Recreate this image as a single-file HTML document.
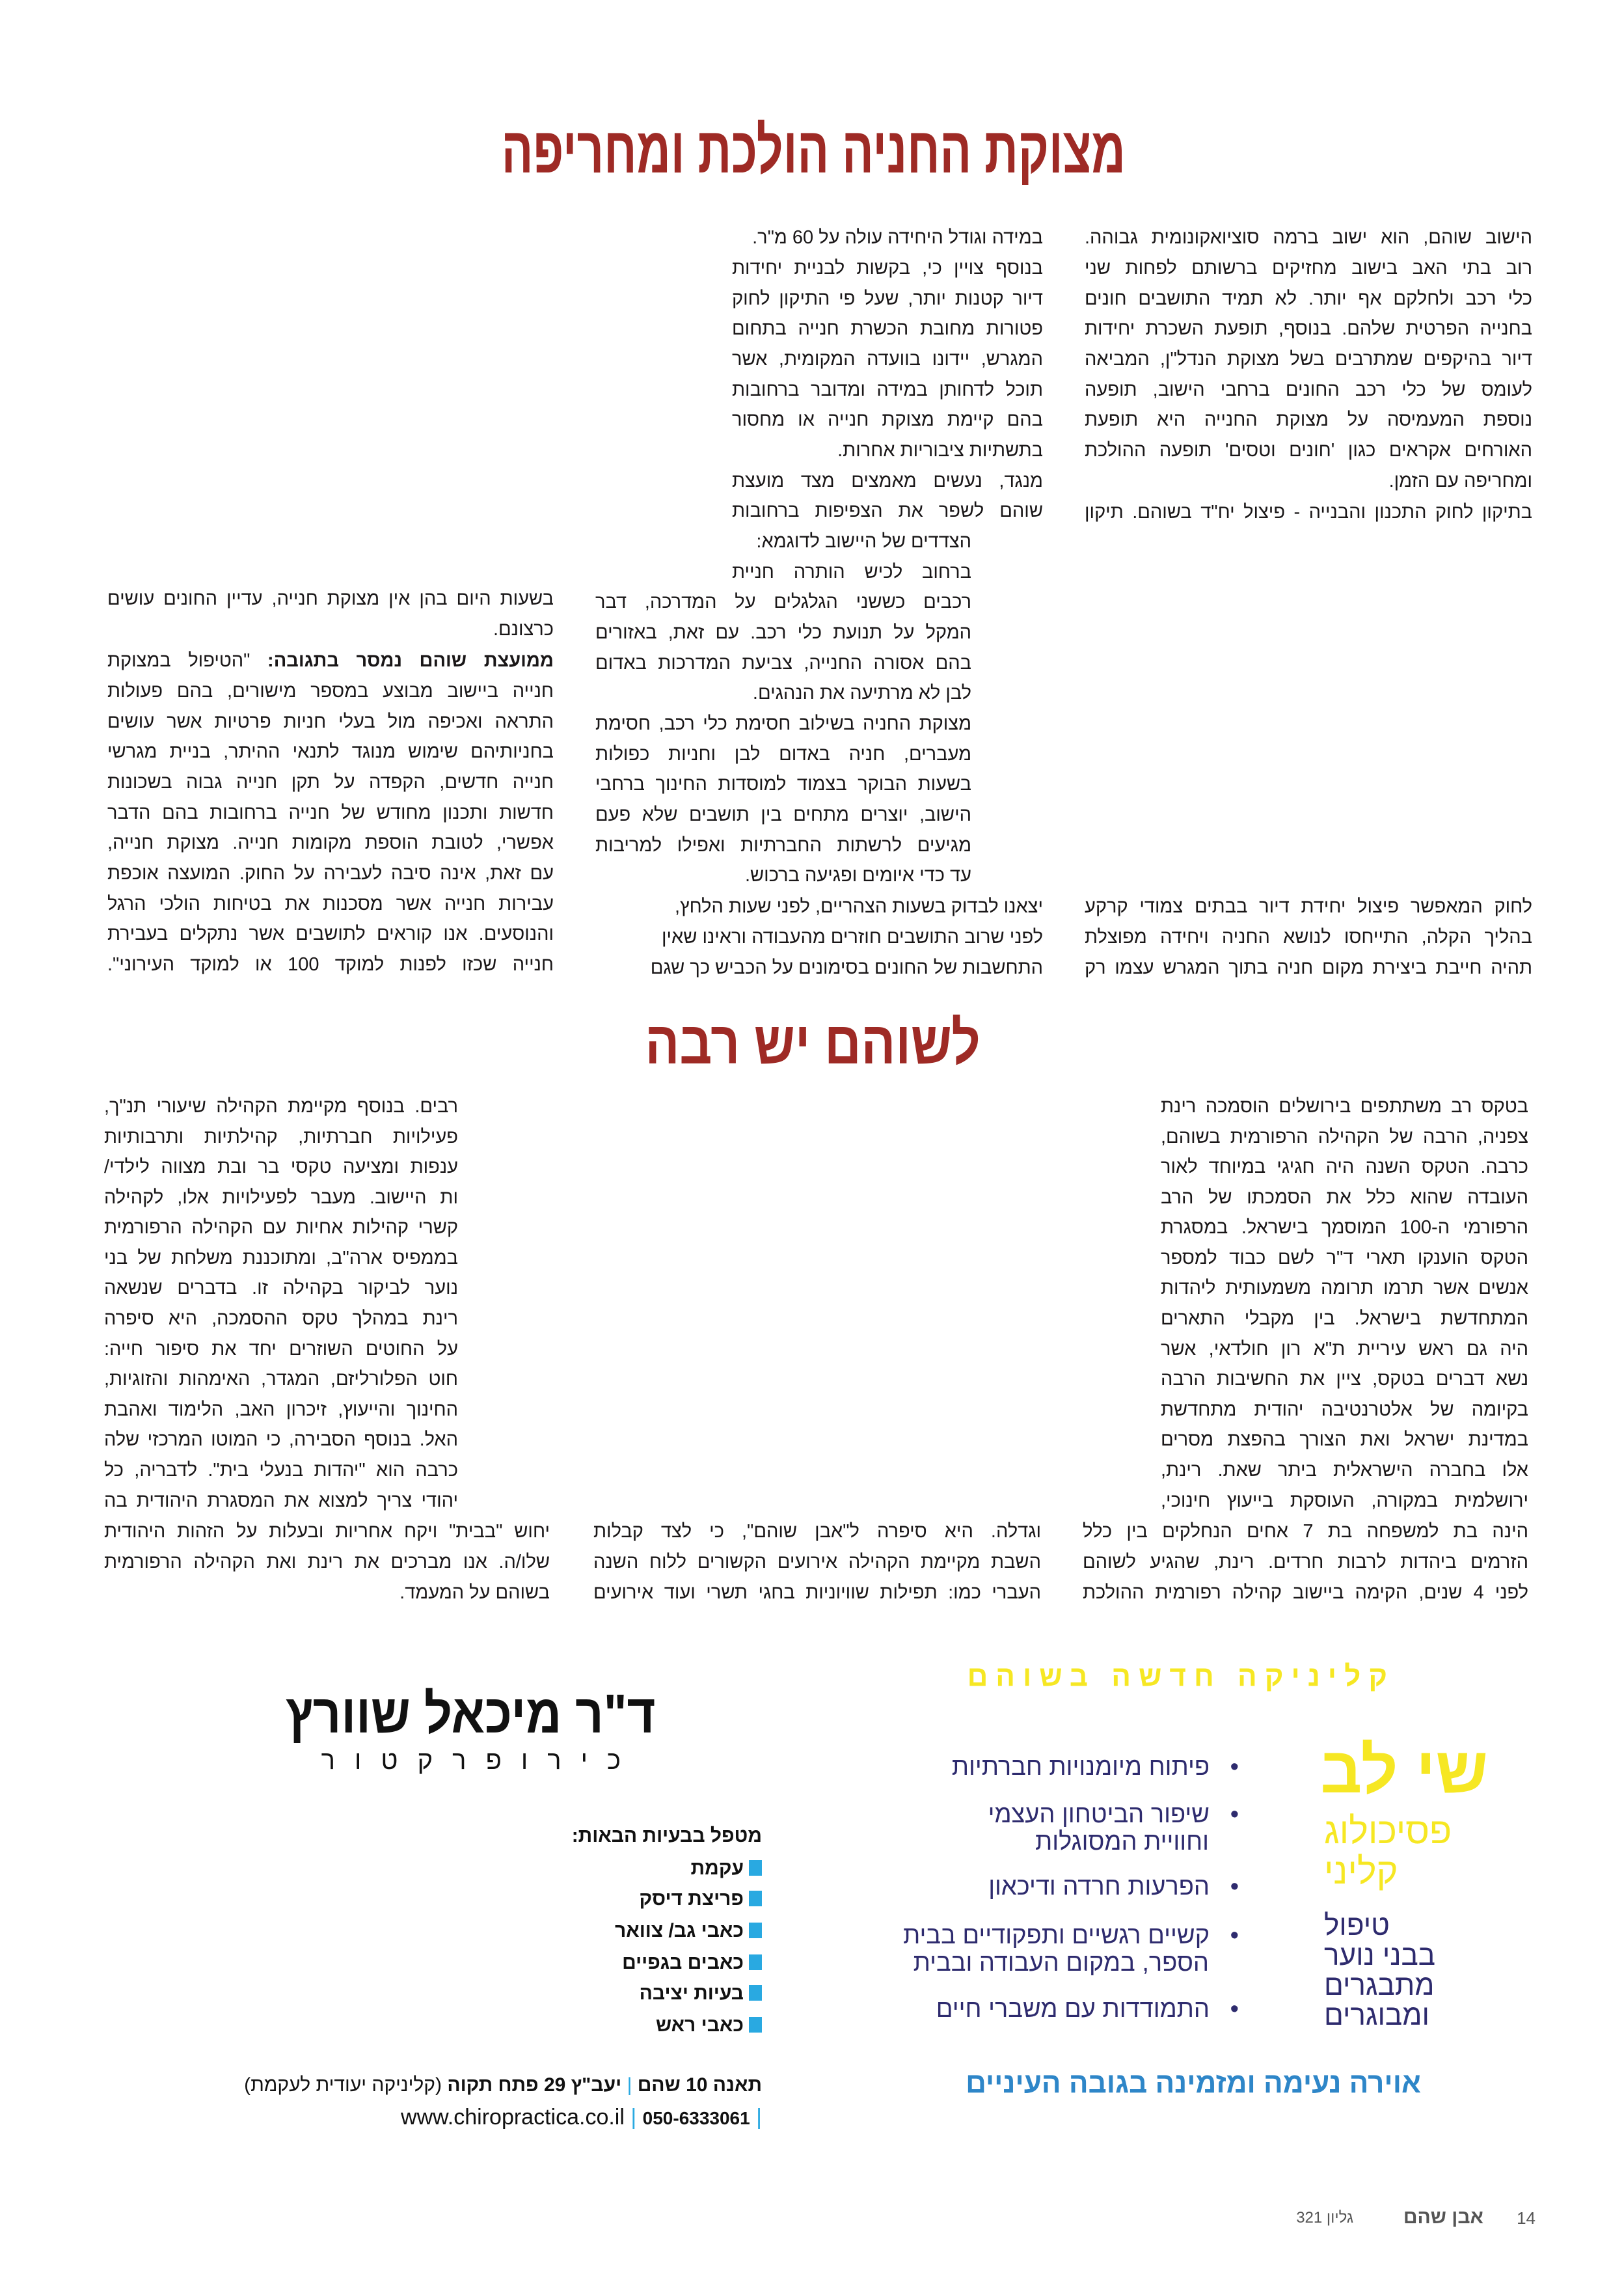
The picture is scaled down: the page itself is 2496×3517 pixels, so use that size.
<!DOCTYPE html>
<html lang="he" dir="rtl"><head><meta charset="utf-8">
<style>
html,body{margin:0;padding:0}
body{width:2496px;height:3517px;position:relative;background:#fff;overflow:hidden;font-family:"Liberation Sans","DejaVu Sans",sans-serif;color:#1a1718;direction:rtl}
.a{position:absolute;white-space:nowrap}
.l{position:absolute;white-space:nowrap;font-size:29px;line-height:36px;height:36px;text-align:justify;text-align-last:justify}
.e{text-align-last:right;text-align:right}
.t{position:absolute;font-weight:bold;color:#9e2a25;white-space:nowrap;text-align:center;left:0;width:2496px;transform-origin:1256px 50%}
.nv{color:#2e2b6e}
.y{color:#f6e723}
.sq{display:inline-block;width:20px;height:24px;background:#29a9e1;margin-left:8px;vertical-align:-2px}
</style></head><body>

<div class="t" style="top:176px;font-size:100px;line-height:110px;transform:scaleX(0.72)">מצוקת החניה הולכת ומחריפה</div>

<!-- col A -->
<div class="l" style="top:347px;right:141px;width:688px">הישוב שוהם, הוא ישוב ברמה סוציואקונומית גבוהה.</div>
<div class="l" style="top:394px;right:141px;width:688px">רוב בתי האב בישוב מחזיקים ברשותם לפחות שני</div>
<div class="l" style="top:441px;right:141px;width:688px">כלי רכב ולחלקם אף יותר. לא תמיד התושבים חונים</div>
<div class="l" style="top:487px;right:141px;width:688px">בחנייה הפרטית שלהם. בנוסף, תופעת השכרת יחידות</div>
<div class="l" style="top:534px;right:141px;width:688px">דיור בהיקפים שמתרבים בשל מצוקת הנדל"ן, המביאה</div>
<div class="l" style="top:581px;right:141px;width:688px">לעומס של כלי רכב החונים ברחבי הישוב, תופעה</div>
<div class="l" style="top:627px;right:141px;width:688px">נוספת המעמיסה על מצוקת החנייה היא תופעת</div>
<div class="l" style="top:674px;right:141px;width:688px">האורחים אקראים כגון 'חונים וטסים' תופעה ההולכת</div>
<div class="l e" style="top:721px;right:141px;width:688px">ומחריפה עם הזמן.</div>
<div class="l" style="top:769px;right:141px;width:688px">בתיקון לחוק התכנון והבנייה - פיצול יח"ד בשוהם. תיקון</div>
<div class="l" style="top:1375px;right:141px;width:688px">לחוק המאפשר פיצול יחידת דיור בבתים צמודי קרקע</div>
<div class="l" style="top:1422px;right:141px;width:688px">בהליך הקלה, התייחסו לנושא החניה ויחידה מפוצלת</div>
<div class="l" style="top:1469px;right:141px;width:688px">תהיה חייבת ביצירת מקום חניה בתוך המגרש עצמו רק</div>

<!-- col B -->
<div class="l e" style="top:347px;right:893px;width:478px">במידה וגודל היחידה עולה על 60 מ"ר.</div>
<div class="l" style="top:394px;right:893px;width:478px">בנוסף צויין כי, בקשות לבניית יחידות</div>
<div class="l" style="top:441px;right:893px;width:478px">דיור קטנות יותר, שעל פי התיקון לחוק</div>
<div class="l" style="top:487px;right:893px;width:478px">פטורות מחובת הכשרת חנייה בתחום</div>
<div class="l" style="top:534px;right:893px;width:478px">המגרש, יידונו בוועדה המקומית, אשר</div>
<div class="l" style="top:581px;right:893px;width:478px">תוכל לדחותן במידה ומדובר ברחובות</div>
<div class="l" style="top:627px;right:893px;width:478px">בהם קיימת מצוקת חנייה או מחסור</div>
<div class="l e" style="top:674px;right:893px;width:478px">בתשתיות ציבוריות אחרות.</div>
<div class="l" style="top:721px;right:893px;width:478px">מנגד, נעשים מאמצים מצד מועצת</div>
<div class="l" style="top:767px;right:893px;width:478px">שוהם לשפר את הצפיפות ברחובות</div>
<div class="l e" style="top:814px;right:1003px;width:368px">הצדדים של היישוב לדוגמא:</div>
<div class="l" style="top:861px;right:1003px;width:368px">ברחוב לכיש הותרה חניית</div>
<div class="l" style="top:907px;right:1003px;width:578px">רכבים כששני הגלגלים על המדרכה, דבר</div>
<div class="l" style="top:954px;right:1003px;width:578px">המקל על תנועת כלי רכב. עם זאת, באזורים</div>
<div class="l" style="top:1001px;right:1003px;width:578px">בהם אסורה החנייה, צביעת המדרכות באדום</div>
<div class="l e" style="top:1047px;right:1003px;width:578px">לבן לא מרתיעה את הנהגים.</div>
<div class="l" style="top:1094px;right:1003px;width:578px">מצוקת החניה בשילוב חסימת כלי רכב, חסימת</div>
<div class="l" style="top:1141px;right:1003px;width:578px">מעברים, חניה באדום לבן וחניות כפולות</div>
<div class="l" style="top:1187px;right:1003px;width:578px">בשעות הבוקר בצמוד למוסדות החינוך ברחבי</div>
<div class="l" style="top:1234px;right:1003px;width:578px">הישוב, יוצרים מתחים בין תושבים שלא פעם</div>
<div class="l" style="top:1281px;right:1003px;width:578px">מגיעים לרשתות החברתיות ואפילו למריבות</div>
<div class="l e" style="top:1327px;right:1003px;width:578px">עד כדי איומים ופגיעה ברכוש.</div>
<div class="l" style="top:1375px;right:893px;width:478px">יצאנו לבדוק בשעות הצהריים, לפני שעות הלחץ,</div>
<div class="l" style="top:1422px;right:893px;width:478px">לפני שרוב התושבים חוזרים מהעבודה וראינו שאין</div>
<div class="l" style="top:1469px;right:893px;width:478px">התחשבות של החונים בסימונים על הכביש כך שגם</div>

<!-- col C -->
<div class="l" style="top:902px;right:1645px;width:686px">בשעות היום בהן אין מצוקת חנייה, עדיין החונים עושים</div>
<div class="l e" style="top:949px;right:1645px;width:686px">כרצונם.</div>
<div class="l" style="top:997px;right:1645px;width:686px"><b>ממועצת שוהם נמסר בתגובה:</b> "הטיפול במצוקת</div>
<div class="l" style="top:1044px;right:1645px;width:686px">חנייה ביישוב מבוצע במספר מישורים, בהם פעולות</div>
<div class="l" style="top:1091px;right:1645px;width:686px">התראה ואכיפה מול בעלי חניות פרטיות אשר עושים</div>
<div class="l" style="top:1137px;right:1645px;width:686px">בחניותיהם שימוש מנוגד לתנאי ההיתר, בניית מגרשי</div>
<div class="l" style="top:1184px;right:1645px;width:686px">חנייה חדשים, הקפדה על תקן חנייה גבוה בשכונות</div>
<div class="l" style="top:1231px;right:1645px;width:686px">חדשות ותכנון מחודש של חנייה ברחובות בהם הדבר</div>
<div class="l" style="top:1277px;right:1645px;width:686px">אפשרי, לטובת הוספת מקומות חנייה. מצוקת חנייה,</div>
<div class="l" style="top:1324px;right:1645px;width:686px">עם זאת, אינה סיבה לעבירה על החוק. המועצה אוכפת</div>
<div class="l" style="top:1371px;right:1645px;width:686px">עבירות חנייה אשר מסכנות את בטיחות הולכי הרגל</div>
<div class="l" style="top:1417px;right:1645px;width:686px">והנוסעים. אנו קוראים לתושבים אשר נתקלים בעבירת</div>
<div class="l" style="top:1464px;right:1645px;width:686px">חנייה שכזו לפנות למוקד 100 או למוקד העירוני".</div>

<!-- section 2 -->
<div class="t" style="top:1548px;font-size:92px;line-height:110px;transform:scaleX(0.85)">לשוהם יש רבה</div>

<div class="l" style="top:1682px;right:147px;width:565px">בטקס רב משתתפים בירושלים הוסמכה רינת</div>
<div class="l" style="top:1729px;right:147px;width:565px">צפניה, הרבה של הקהילה הרפורמית בשוהם,</div>
<div class="l" style="top:1775px;right:147px;width:565px">כרבה. הטקס השנה היה חגיגי במיוחד לאור</div>
<div class="l" style="top:1822px;right:147px;width:565px">העובדה שהוא כלל את הסמכתו של הרב</div>
<div class="l" style="top:1868px;right:147px;width:565px">הרפורמי ה-100 המוסמך בישראל. במסגרת</div>
<div class="l" style="top:1915px;right:147px;width:565px">הטקס הוענקו תארי ד"ר לשם כבוד למספר</div>
<div class="l" style="top:1961px;right:147px;width:565px">אנשים אשר תרמו תרומה משמעותית ליהדות</div>
<div class="l" style="top:2008px;right:147px;width:565px">המתחדשת בישראל. בין מקבלי התארים</div>
<div class="l" style="top:2055px;right:147px;width:565px">היה גם ראש עיריית ת"א רון חולדאי, אשר</div>
<div class="l" style="top:2101px;right:147px;width:565px">נשא דברים בטקס, ציין את החשיבות הרבה</div>
<div class="l" style="top:2148px;right:147px;width:565px">בקיומה של אלטרנטיבה יהודית מתחדשת</div>
<div class="l" style="top:2194px;right:147px;width:565px">במדינת ישראל ואת הצורך בהפצת מסרים</div>
<div class="l" style="top:2241px;right:147px;width:565px">אלו בחברה הישראלית ביתר שאת. רינת,</div>
<div class="l" style="top:2288px;right:147px;width:565px">ירושלמית במקורה, העוסקת בייעוץ חינוכי,</div>
<div class="l" style="top:2335px;right:147px;width:685px">הינה בת למשפחה בת 7 אחים הנחלקים בין כלל</div>
<div class="l" style="top:2382px;right:147px;width:685px">הזרמים ביהדות לרבות חרדים. רינת, שהגיע לשוהם</div>
<div class="l" style="top:2429px;right:147px;width:685px">לפני 4 שנים, הקימה ביישוב קהילה רפורמית ההולכת</div>

<div class="l" style="top:2335px;right:896px;width:688px">וגדלה. היא סיפרה ל"אבן שוהם", כי לצד קבלות</div>
<div class="l" style="top:2382px;right:896px;width:688px">השבת מקיימת הקהילה אירועים הקשורים ללוח השנה</div>
<div class="l" style="top:2429px;right:896px;width:688px">העברי כמו: תפילות שוויוניות בחגי תשרי ועוד אירועים</div>

<div class="l" style="top:1682px;right:1792px;width:544px">רבים. בנוסף מקיימת הקהילה שיעורי תנ"ך,</div>
<div class="l" style="top:1729px;right:1792px;width:544px">פעילויות חברתיות, קהילתיות ותרבותיות</div>
<div class="l" style="top:1775px;right:1792px;width:544px">ענפות ומציעה טקסי בר ובת מצווה לילדי/</div>
<div class="l" style="top:1822px;right:1792px;width:544px">ות היישוב. מעבר לפעילויות אלו, לקהילה</div>
<div class="l" style="top:1868px;right:1792px;width:544px">קשרי קהילות אחיות עם הקהילה הרפורמית</div>
<div class="l" style="top:1915px;right:1792px;width:544px">בממפיס ארה"ב, ומתוכננת משלחת של בני</div>
<div class="l" style="top:1961px;right:1792px;width:544px">נוער לביקור בקהילה זו. בדברים שנשאה</div>
<div class="l" style="top:2008px;right:1792px;width:544px">רינת במהלך טקס ההסמכה, היא סיפרה</div>
<div class="l" style="top:2055px;right:1792px;width:544px">על החוטים השוזרים יחד את סיפור חייה:</div>
<div class="l" style="top:2101px;right:1792px;width:544px">חוט הפלורליזם, המגדר, האימהות והזוגיות,</div>
<div class="l" style="top:2148px;right:1792px;width:544px">החינוך והייעוץ, זיכרון האב, הלימוד ואהבת</div>
<div class="l" style="top:2194px;right:1792px;width:544px">האל. בנוסף הסבירה, כי המוטו המרכזי שלה</div>
<div class="l" style="top:2241px;right:1792px;width:544px">כרבה הוא "יהדות בנעלי בית". לדבריה, כל</div>
<div class="l" style="top:2288px;right:1792px;width:544px">יהודי צריך למצוא את המסגרת היהודית בה</div>
<div class="l" style="top:2335px;right:1651px;width:685px">יחוש "בבית" ויקח אחריות ובעלות על הזהות היהודית</div>
<div class="l" style="top:2382px;right:1651px;width:685px">שלו/ה. אנו מברכים את רינת ואת הקהילה הרפורמית</div>
<div class="l e" style="top:2429px;right:1651px;width:685px">בשוהם על המעמד.</div>

<!-- ad right -->
<div class="a y" style="top:2548px;right:352px;font-size:44px;font-weight:bold;letter-spacing:12px;line-height:56px">קליניקה חדשה בשוהם</div>
<div class="a y" style="top:2660px;right:209px;font-size:100px;font-weight:bold;line-height:120px">שי לב</div>
<div class="a y" style="top:2780px;left:2035px;font-size:56px;line-height:66px;text-align:left">פסיכולוג</div>
<div class="a y" style="top:2842px;left:2035px;font-size:56px;line-height:66px;text-align:left">קליני</div>
<div class="a nv" style="top:2936px;left:2035px;font-size:44px;line-height:46px;white-space:normal;width:240px;text-align:left">טיפול<br>בבני נוער<br>מתבגרים<br>ומבוגרים</div>

<div class="a nv" style="top:2693px;right:592px;font-size:38px;line-height:44px">•&nbsp;&nbsp; פיתוח מיומנויות חברתיות</div>
<div class="a nv" style="top:2767px;right:592px;font-size:38px;line-height:42px">•&nbsp;&nbsp; שיפור הביטחון העצמי<br><span style="margin-right:46px">וחוויית המסוגלות</span></div>
<div class="a nv" style="top:2877px;right:592px;font-size:38px;line-height:44px">•&nbsp;&nbsp; הפרעות חרדה ודיכאון</div>
<div class="a nv" style="top:2953px;right:592px;font-size:38px;line-height:42px">•&nbsp;&nbsp; קשיים רגשיים ותפקודיים בבית<br><span style="margin-right:46px">הספר, במקום העבודה ובבית</span></div>
<div class="a nv" style="top:3065px;right:592px;font-size:38px;line-height:44px">•&nbsp;&nbsp; התמודדות עם משברי חיים</div>
<div class="a" style="top:3176px;right:312px;font-size:44px;font-weight:bold;color:#2e86c8;line-height:50px">אוירה נעימה ומזמינה בגובה העיניים</div>

<!-- ad left -->
<div class="a" style="top:2585px;right:1488px;font-size:84px;font-weight:900;color:#111;line-height:96px;transform:scaleX(0.9);transform-origin:right">ד"ר מיכאל שוורץ</div>
<div class="a" style="top:2682px;right:1512px;font-size:40px;letter-spacing:30px;color:#111;line-height:46px">כירופרקטור</div>
<div class="a" style="top:2803px;right:1325px;font-size:30px;font-weight:bold;color:#111;line-height:36px">מטפל בבעיות הבאות:</div>
<div class="a" style="top:2853px;right:1325px;font-size:30px;font-weight:bold;line-height:36px;color:#111"><span class="sq"></span>עקמת</div>
<div class="a" style="top:2900px;right:1325px;font-size:30px;font-weight:bold;line-height:36px;color:#111"><span class="sq"></span>פריצת דיסק</div>
<div class="a" style="top:2949px;right:1325px;font-size:30px;font-weight:bold;line-height:36px;color:#111"><span class="sq"></span>כאבי גב/ צוואר</div>
<div class="a" style="top:2998px;right:1325px;font-size:30px;font-weight:bold;line-height:36px;color:#111"><span class="sq"></span>כאבים בגפיים</div>
<div class="a" style="top:3045px;right:1325px;font-size:30px;font-weight:bold;line-height:36px;color:#111"><span class="sq"></span>בעיות יציבה</div>
<div class="a" style="top:3094px;right:1325px;font-size:30px;font-weight:bold;line-height:36px;color:#111"><span class="sq"></span>כאבי ראש</div>
<div class="a" style="top:3186px;right:1325px;font-size:30px;line-height:36px;color:#111"><b>תאנה 10 שהם</b> <span style="color:#29a9e1">|</span> <b>יעב"ץ 29 פתח תקוה</b> (קליניקה יעודית לעקמת)</div>
<div class="a" style="top:3233px;right:1325px;font-size:34px;line-height:40px;color:#111"><span style="color:#29a9e1">|</span> <b style="font-size:28px">050-6333061</b> <span style="color:#29a9e1">|</span> <span dir="ltr">www.chiropractica.co.il</span></div>

<!-- footer -->
<div class="a" style="top:3393px;right:136px;font-size:26px;color:#555;line-height:30px">14</div>
<div class="a" style="top:3391px;right:216px;font-size:30px;font-weight:bold;color:#555;line-height:32px">אבן שהם</div>
<div class="a" style="top:3393px;right:416px;font-size:24px;color:#555;line-height:30px">גליון 321</div>
</body></html>
